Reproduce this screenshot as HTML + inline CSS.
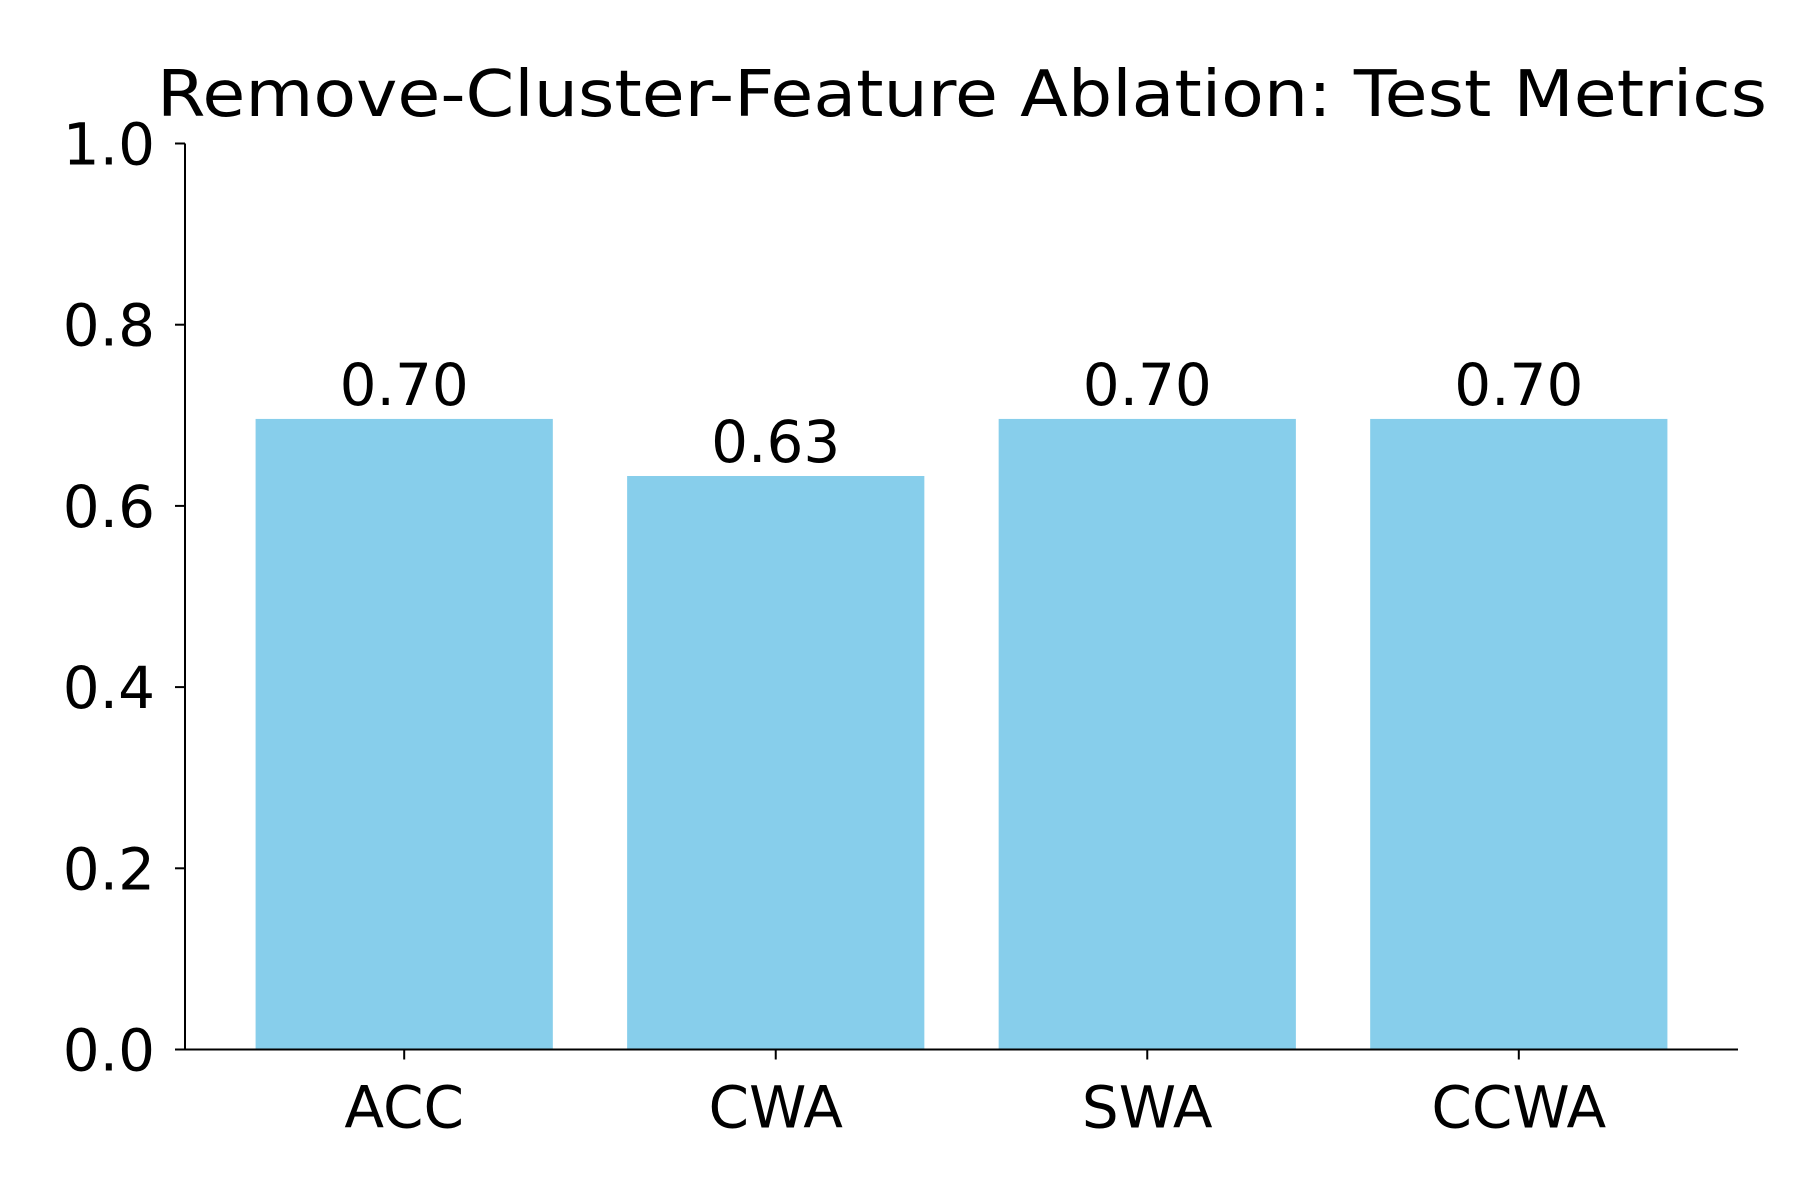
<!DOCTYPE html>
<html><head><meta charset="utf-8"><style>
html,body{margin:0;padding:0;background:#fff;}
svg{display:block;font-family:"DejaVu Sans","Liberation Sans",sans-serif;}
</style></head><body>
<svg id="chart" width="1800" height="1200" viewBox="0 0 1800 1200" xmlns="http://www.w3.org/2000/svg">
<text x="962" y="116" font-size="64" text-anchor="middle" textLength="1610" lengthAdjust="spacingAndGlyphs">Remove-Cluster-Feature Ablation: Test Metrics</text>
<g id="bars"></g>
<g id="yaxis"></g>
<g id="xaxis"></g>
</svg>
<script>
const categories = ["ACC", "CWA", "SWA", "CCWA"];
const values = [0.696, 0.633, 0.696, 0.696];
const valueLabels = ["0.70", "0.63", "0.70", "0.70"];
const yTicks = [0.0, 0.2, 0.4, 0.6, 0.8, 1.0];
const yTickLabels = ["0.0", "0.2", "0.4", "0.6", "0.8", "1.0"];

const L = 185, R = 1738, T = 143.5, B = 1049.5;
const xMin = -0.59, xMax = 3.59;
const xs = v => L + (v - xMin) / (xMax - xMin) * (R - L);
const ys = v => B - v * (B - T);
const bw = (xs(0.8) - xs(0));
const NS = "http://www.w3.org/2000/svg";
function mk(tag, attrs, parent){ const e=document.createElementNS(NS,tag); for(const k in attrs) e.setAttribute(k,attrs[k]); parent.appendChild(e); return e; }
const gb = document.getElementById('bars'), gy = document.getElementById('yaxis'), gx = document.getElementById('xaxis');

categories.forEach((c,i)=>{
  const r = mk('rect',{x:xs(i)-bw/2,y:ys(values[i]),width:bw,height:ys(0)-ys(values[i]),fill:'#87ceeb'},gb);
  
  
  const t = mk('text',{x:xs(i),y:ys(values[i])-14,'font-size':58,'text-anchor':'middle'},gb);
  t.textContent = valueLabels[i];
  
  
  const tk = mk('line',{x1:xs(i),x2:xs(i),y1:B,y2:B+10,stroke:'#000','stroke-width':2},gx);
  
  
  const tl = mk('text',{x:xs(i),y:B+78,'font-size':58,'text-anchor':'middle'},gx);
  tl.textContent = c;
  
  
});
yTicks.forEach((v,i)=>{
  const tk = mk('line',{x1:L-10,x2:L,y1:ys(v),y2:ys(v),stroke:'#000','stroke-width':2},gy);
  
  
  const tl = mk('text',{x:L-30,y:ys(v)+21,'font-size':58,'text-anchor':'end'},gy);
  tl.textContent = yTickLabels[i];
  
  
});
const ya = mk('line',{x1:L,x2:L,y1:T,y2:B,stroke:'#000','stroke-width':2},gy);


const xa = mk('line',{x1:L-1,x2:R,y1:B,y2:B,stroke:'#000','stroke-width':2},gx);


</script>
</body></html>
